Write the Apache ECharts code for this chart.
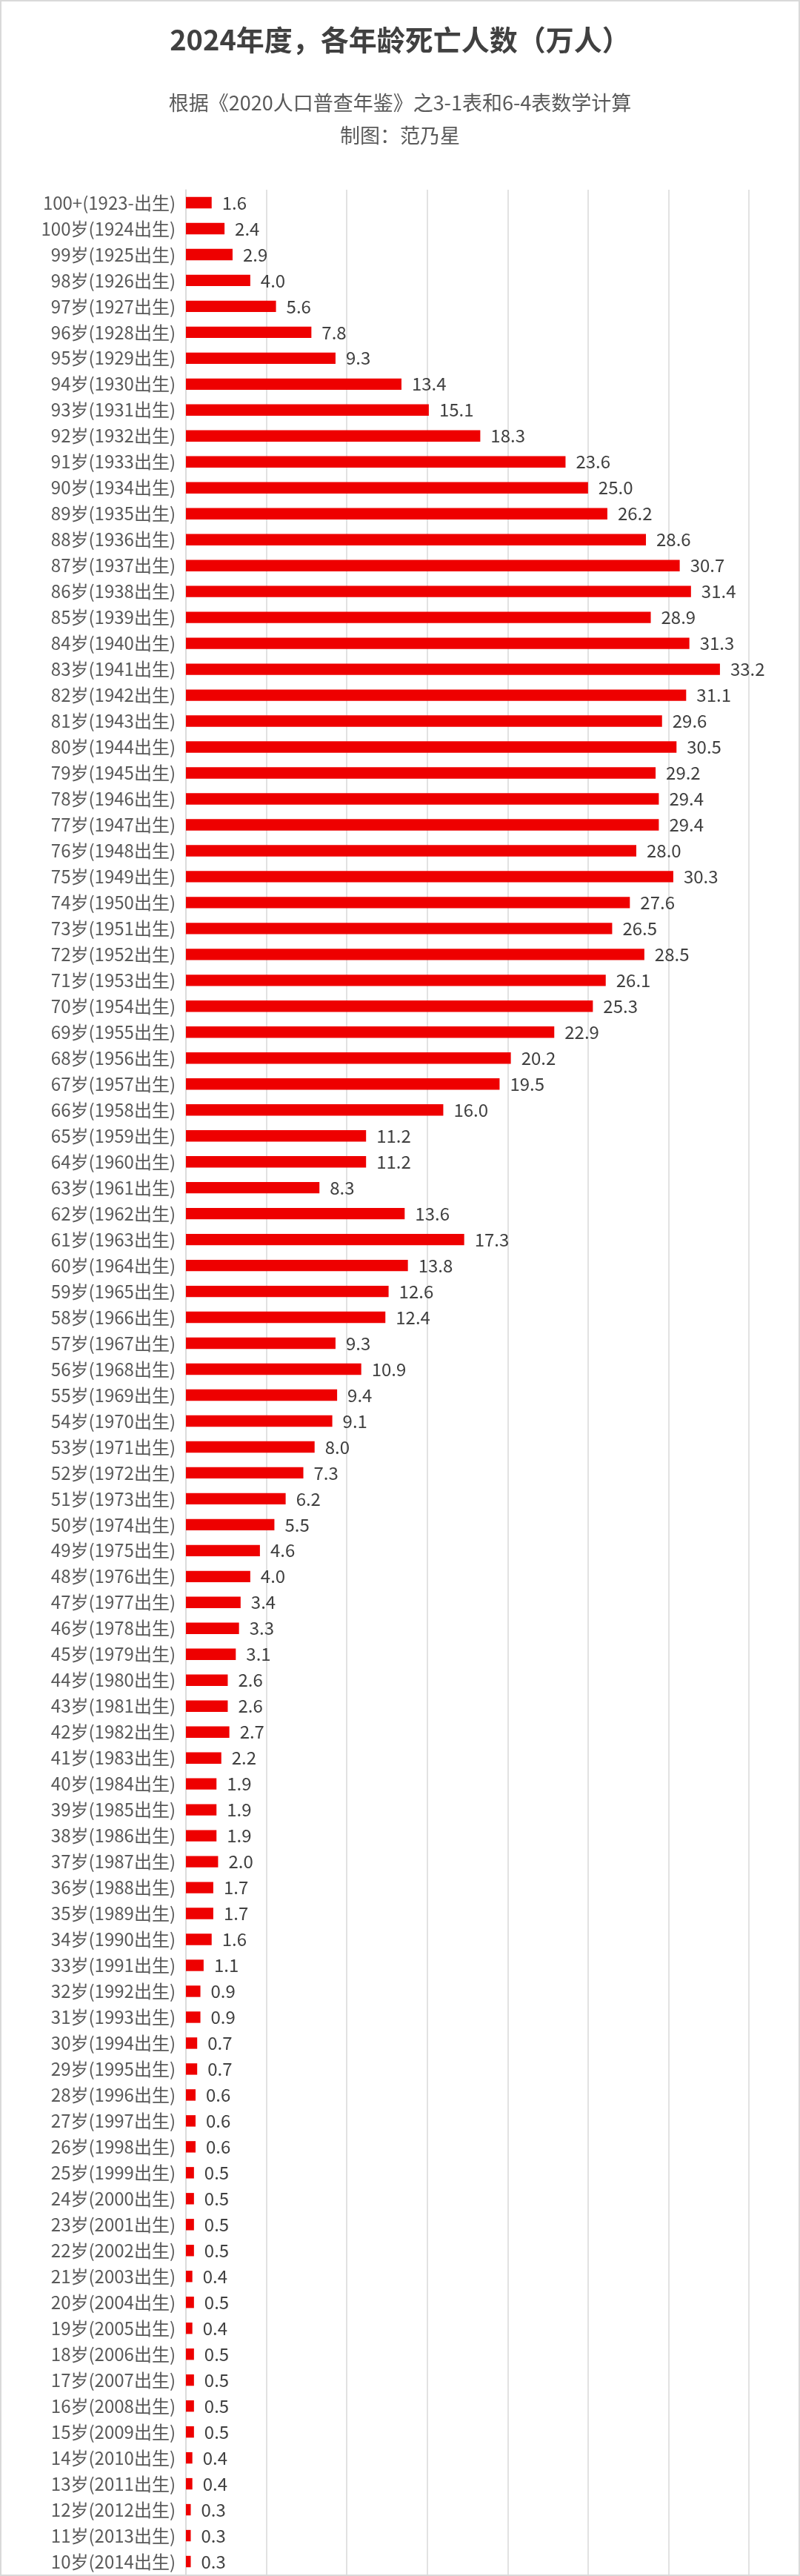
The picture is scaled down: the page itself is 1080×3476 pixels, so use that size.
<!DOCTYPE html>
<html>
<head>
<meta charset="utf-8">
<script src="https://cdn.jsdelivr.net/npm/echarts@6/dist/echarts.min.js"></script>
<style>
html,body{margin:0;padding:0;background:#fff;}
#echarts{width:1080px;height:3476px;box-sizing:border-box;border:2px solid #d9d9d9;}
</style>
</head>
<body>
<div id="echarts"></div>
<script>
// 年龄从100+到10岁
var ages = ['100+'];
for (var a = 100; a >= 10; a--) ages.push(a);

var deaths = [1.6, 2.4, 2.9, 4.0, 5.6, 7.8, 9.3, 13.4, 15.1, 18.3,
    23.6, 25.0, 26.2, 28.6, 30.7, 31.4, 28.9, 31.3, 33.2, 31.1,
    29.6, 30.5, 29.2, 29.4, 29.4, 28.0, 30.3, 27.6, 26.5, 28.5,
    26.1, 25.3, 22.9, 20.2, 19.5, 16.0, 11.2, 11.2, 8.3, 13.6,
    17.3, 13.8, 12.6, 12.4, 9.3, 10.9, 9.4, 9.1, 8.0, 7.3,
    6.2, 5.5, 4.6, 4.0, 3.4, 3.3, 3.1, 2.6, 2.6, 2.7,
    2.2, 1.9, 1.9, 1.9, 2.0, 1.7, 1.7, 1.6, 1.1, 0.9,
    0.9, 0.7, 0.7, 0.6, 0.6, 0.6, 0.5, 0.5, 0.5, 0.5,
    0.4, 0.5, 0.4, 0.5, 0.5, 0.5, 0.5, 0.4, 0.4, 0.3,
    0.3, 0.3];

var categories = ages.map(function (a) {
    if (a === '100+') return '100+(1923-出生)';
    return a + '岁(' + (2024 - a) + '出生)';
});

var myEChart = echarts.init(document.getElementById('echarts'));

var font = '"Noto Sans CJK SC", sans-serif';
var subStyle = {fontFamily: font, fontSize: 27, fontWeight: 'normal', color: '#595959'};

myEChart.setOption({
    animation: false,
    title: [{
        text: '2024年度，各年龄死亡人数（万人）',
        left: 'center', top: 28,
        textStyle: {fontFamily: font, fontSize: 38, fontWeight: 'bold', color: '#404040'}
    }, {
        text: '根据《2020人口普查年鉴》之3-1表和6-4表数学计算',
        left: 'center', top: 118,
        textStyle: subStyle
    }, {
        text: '制图：范乃星',
        left: 'center', top: 162,
        textStyle: subStyle
    }],
    grid: {left: 249, right: 67, top: 254, bottom: -30},
    xAxis: {
        type: 'value', min: 0, max: 35, interval: 5,
        position: 'top',
        axisLabel: {show: false},
        axisLine: {show: false},
        axisTick: {show: false},
        splitLine: {lineStyle: {color: '#d9d9d9', width: 1.5}}
    },
    yAxis: {
        type: 'category', inverse: true, data: categories,
        axisLine: {lineStyle: {color: '#d9d9d9', width: 1.5}},
        axisTick: {show: false},
        axisLabel: {fontFamily: font, fontSize: 24, color: '#595959', margin: 14}
    },
    series: [{
        type: 'bar',
        data: deaths,
        barCategoryGap: '56%',
        itemStyle: {color: '#ee0000'},
        label: {
            show: true, position: 'right', distance: 14,
            fontFamily: font, fontSize: 24, color: '#404040',
            formatter: function (p) { return p.value.toFixed(1); }
        }
    }]
});
</script>
</body>
</html>
